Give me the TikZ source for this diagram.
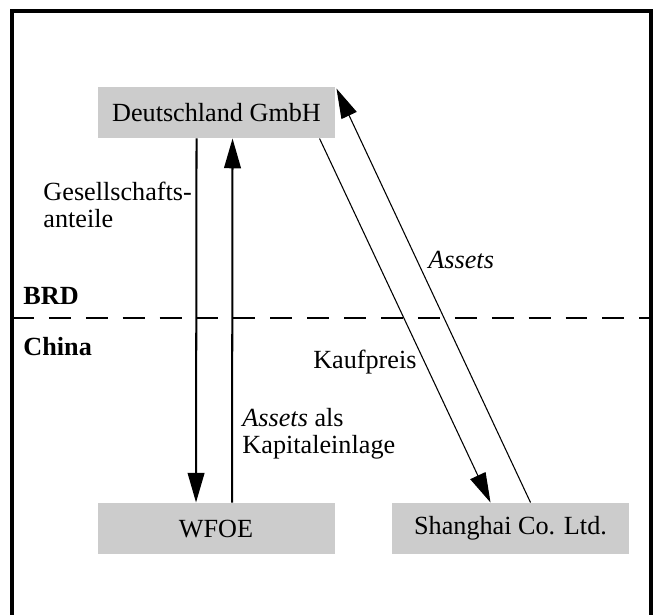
\documentclass[tikz,border=0pt]{standalone}
\usepackage{fontspec}
\setmainfont{Liberation Serif}
\usetikzlibrary{arrows.meta,calc}
\definecolor{boxgray}{HTML}{CCCCCC}
\newcommand\pxu{0.42pt}
\begin{document}
\begin{tikzpicture}[x=0.42pt,y=-0.42pt,font=\fontsize{11}{11.4}\selectfont,
  box/.style={fill=boxgray,minimum width=237*\pxu,minimum height=51*\pxu,inner sep=0pt},
  flow/.style={-{Triangle[length=12.5pt,width=7pt]},line width=0.85pt},
  thinflow/.style={-{Triangle[length=12.5pt,width=7pt]},line width=0.45pt},
  lbl/.style={align=left,inner sep=0pt},
  frame/.style={line width=1.3pt,line join=miter},
  divider/.style={line width=0.85pt,dash pattern=on 9.2pt off 6.3pt}]
\useasboundingbox (0,0) rectangle (653,614);
% frame (open at the bottom)
\coordinate (fbl) at (12,640);
\coordinate (ftl) at (12,11);
\coordinate (ftr) at (651,11);
\coordinate (fbr) at (651,640);
\draw[frame] (fbl) -- (ftl) -- (ftr) -- (fbr);
% divider
\coordinate (dl) at (12,318);
\coordinate (dr) at (651,318);
\draw[divider] (dl) -- (dr);
% boxes
\node[box] (de) at (216.5,112.5) {Deutschland GmbH};
\node[box] (wfoe) at (216,528.5) {WFOE};
\node[box] (sh) at (510.5,528.5) {Shanghai Co. Ltd.};
% labels
\node[lbl,anchor=west,font=\fontsize{11}{11.4}\selectfont\bfseries] (brd) at (23,296) {BRD};
\node[lbl,anchor=west,font=\fontsize{11}{11.4}\selectfont\bfseries] (china) at (23,347) {China};
\node[lbl,anchor=west] (ges) at (43,205) {Gesellschafts-\\anteile};
\node[lbl,anchor=west] (kap) at (242,434) {\textit{Assets} als\\Kapitaleinlage};
\node[lbl,anchor=east] (kauf) at (417,362) {Kaufpreis};
\node[lbl,anchor=west] (ass) at (428,260) {\textit{Assets}};
% connectors
\draw[flow] ($(de.south west)+(99,0)$) -- ($(wfoe.north west)+(99,0)$);
\draw[flow] ($(wfoe.north west)+(135,0)$) -- ($(de.south west)+(135,0)$);
\draw[thinflow] ($(de.south west)+(222,0)$) -- ($(sh.north west)+(99,0)$);
\draw[thinflow] ($(sh.north west)+(139,0)$) -- ($(de.north east)+(1,2)$);
\end{tikzpicture}
\end{document}
